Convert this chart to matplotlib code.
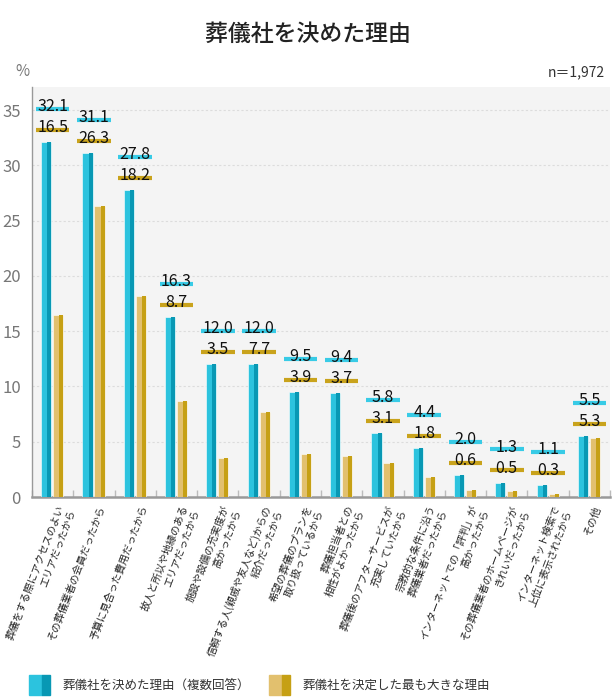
import numpy as np
import matplotlib
matplotlib.use("Agg")
import matplotlib.pyplot as plt
from matplotlib.transforms import offset_copy

plt.rcParams['font.family'] = ['Noto Sans CJK JP', 'DejaVu Sans']

# データ
categories = [
    "葬儀をする際にアクセスのよい\nエリアだったから",
    "その葬儀業者の会員だったから",
    "予算に見合った費用だったから",
    "故人と所以や地縁のある\nエリアだったから",
    "施設や設備の充実度が\n高かったから",
    "信頼する人(親戚や友人など)からの\n紹介だったから",
    "希望の葬儀のプランを\n取り扱っているから",
    "葬儀担当者との\n相性がよかったから",
    "葬儀後のアフターサービスが\n充実していたから",
    "宗教的な条件に沿う\n葬儀業者だったから",
    "インターネットでの「評判」が\n高かったから",
    "その葬儀業者のホームページが\nきれいだったから",
    "インターネット検索で\n上位に表示されたから",
    "その他",
]
reasons_all = [32.1, 31.1, 27.8, 16.3, 12.0, 12.0, 9.5, 9.4, 5.8, 4.4, 2.0, 1.3, 1.1, 5.5]
reasons_top = [16.5, 26.3, 18.2, 8.7, 3.5, 7.7, 3.9, 3.7, 3.1, 1.8, 0.6, 0.5, 0.3, 5.3]
yticks = [0, 5, 10, 15, 20, 25, 30, 35]

series_names = ["葬儀社を決めた理由（複数回答）", "葬儀社を決定した最も大きな理由"]

blue_light, blue_dark, blue_hl = "#2cc3de", "#0898b4", "#38cbe6"
gold_light, gold_dark, gold_hl = "#e2c06e", "#c6a014", "#c9a31c"

fig = plt.figure(figsize=(6.15, 7.0), dpi=100)
ax = fig.add_axes([32 / 615, 1 - 497 / 700, 578 / 615, 410 / 700])
ax.set_facecolor("#f4f4f4")

x = np.arange(len(categories))
w = 0.245
off_b, off_g = -0.155, 0.135

# 棒（左が明るく右が濃い）
for off, vals, light, dark in [(off_b, reasons_all, blue_light, blue_dark),
                               (off_g, reasons_top, gold_light, gold_dark)]:
    ax.bar(x + off, vals, width=w, color=light, zorder=3,
           edgecolor="white", linewidth=0.4)
    ax.bar(x + off + w / 2 - w * 0.4, vals, width=w * 0.4, align="edge",
           color=dark, zorder=4, linewidth=0)

# 数値ラベル（マーカー風の下線つき）
for i in range(len(categories)):
    top = max(reasons_all[i], reasons_top[i])
    for val, dy, hl in [(reasons_all[i], 22.3, blue_hl), (reasons_top[i], 7.2, gold_hl)]:
        tr_line = offset_copy(ax.transData, fig=fig, y=dy + 1.6, units="points")
        ax.plot([x[i] - 0.405, x[i] + 0.405], [top, top], transform=tr_line,
                color=hl, lw=3.0, solid_capstyle="butt", zorder=5, clip_on=False)
        ax.annotate(f"{val:.1f}", (x[i], top), xytext=(0, dy), textcoords="offset points",
                    ha="center", va="baseline", fontsize=11.5, color="#111", zorder=6,
                    annotation_clip=False)

ax.set_xlim(-0.5, len(categories) - 0.5)
ax.set_ylim(0, 37.1)
ax.set_yticks(yticks)
ax.tick_params(axis="y", length=0, pad=8, labelsize=12, labelcolor="#777")
ax.yaxis.grid(True, linestyle=(0, (2, 2)), color="#dcdcdc", linewidth=0.8, zorder=0)

ax.set_xticks(np.arange(len(categories) + 1) - 0.5, minor=False)
ax.set_xticklabels([])
ax.tick_params(axis="x", direction="in", length=5, color="#bbbbbb", width=1)

for s in ["top", "right"]:
    ax.spines[s].set_visible(False)
ax.spines["left"].set_color("#999999")
ax.spines["left"].set_linewidth(1.0)
ax.spines["bottom"].set_color("#999999")
ax.spines["bottom"].set_linewidth(1.8)

# カテゴリラベル（斜め）
lab_tr = offset_copy(ax.get_xaxis_transform(), fig=fig, y=-5, units="points")
for i, c in enumerate(categories):
    ax.text(x[i] + 0.1, 0, c, transform=lab_tr, rotation=69, rotation_mode="anchor",
            ha="right", va="top", multialignment="right", fontsize=7.4, color="#222",
            linespacing=1.35)

fig.text(0.5, 1 - 34 / 700, "葬儀社を決めた理由", ha="center", va="center",
         fontsize=16.5, fontweight="medium", color="#222")
fig.text(22 / 615, 1 - 72 / 700, "%", ha="center", va="center", fontsize=11, color="#777")
fig.text(605 / 615, 1 - 72 / 700, "n＝1,972", ha="right", va="center", fontsize=10, color="#333")

# 凡例
for sx, light, dark, name in [(29, blue_light, blue_dark, series_names[0]),
                              (269, gold_light, gold_dark, series_names[1])]:
    fig.patches.append(plt.Rectangle((sx / 615, 1 - 695 / 700), 13 / 615, 20 / 700,
                                     transform=fig.transFigure, color=light, figure=fig))
    fig.patches.append(plt.Rectangle(((sx + 13) / 615, 1 - 695 / 700), 8 / 615, 20 / 700,
                                     transform=fig.transFigure, color=dark, figure=fig))
    fig.text((sx + 33) / 615, 1 - 685 / 700, name, ha="left", va="center",
             fontsize=9, color="#333")

fig.savefig("out.png", dpi=100)
